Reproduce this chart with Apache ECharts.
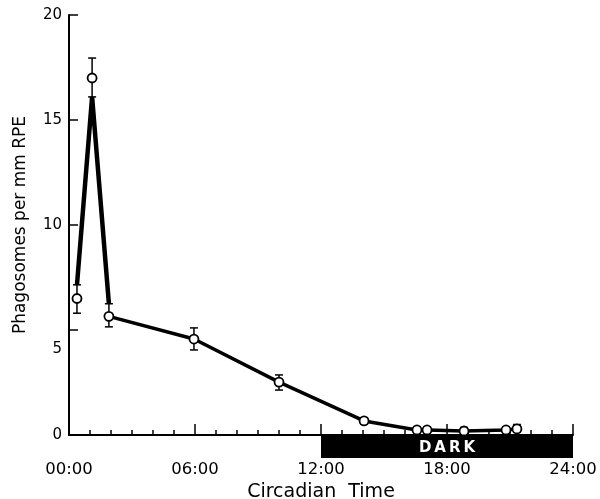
<!DOCTYPE html>
<html><head><meta charset="utf-8">
<script src="https://cdn.jsdelivr.net/npm/echarts@6/dist/echarts.min.js"></script>
<style>html,body{margin:0;padding:0;background:#fff}#c{width:600px;height:499px}</style>
</head><body><div id="c"></div>
<script>
// Circadian time (h) of each sample, mean and error bar ends
const hours  = [0.38, 1.10, 1.90, 5.95, 10.0, 14.05, 16.57, 17.05, 18.81, 20.81, 21.33];
const means  = [6.5, 17.0, 5.65, 4.57, 2.52, 0.67, 0.24, 0.24, 0.19, 0.24, 0.29];
const errLow = [5.8, 16.1, 5.15, 4.05, 2.14, 0.52, 0.12, 0.12, 0.1, 0.12, 0.15];
const errHigh= [7.15, 17.95, 6.25, 5.1, 2.86, 0.82, 0.36, 0.36, 0.36, 0.36, 0.5];
// drawn trace (the peak segment is joined at the error bar ends)
const peakTraceHours = [0.38, 1.10, 1.90];
const peakTraceVals  = [7.15, 16.1, 6.25];
const tailTraceHours = [1.90, 5.95, 10.0, 14.05, 16.57, 17.05, 18.81, 20.81, 21.33];
const tailTraceVals  = [5.65, 4.57, 2.52, 0.67, 0.24, 0.24, 0.19, 0.24, 0.29];
const xTicks = ['00:00','06:00','12:00','18:00','24:00'];
const darkPeriod = [12, 24];
const darkLabel = 'DARK';
const yTitle = 'Phagosomes per mm RPE';
const xTitle = 'Circadian  Time';

const font = '"DejaVu Sans", "Liberation Sans", Arial, sans-serif';
const chart = echarts.init(document.getElementById('c'));
chart.setOption({
  animation: false,
  grid: {left: 69, right: 27, top: 15, bottom: 64, containLabel: false, outerBoundsMode: 'none'},
  xAxis: {
    type: 'value', min: 0, max: 24, interval: 6,
    name: xTitle, nameLocation: 'middle', nameGap: 48,
    nameTextStyle: {color: '#000', fontSize: 19, fontFamily: font},
    axisLine: {lineStyle: {color: '#000', width: 2}},
    axisTick: {inside: true, length: 11, lineStyle: {color: '#000', width: 1.5}},
    minorTick: {show: true, splitNumber: 6, length: 5, lineStyle: {color: '#000', width: 1.5}},
    axisLabel: {color: '#000', fontSize: 16.5, fontFamily: font, margin: 26,
      formatter: v => xTicks[v / 6]},
    splitLine: {show: false}
  },
  yAxis: {
    type: 'value', min: 0, max: 20, interval: 5,
    name: yTitle, nameLocation: 'middle', nameGap: 40,
    nameTextStyle: {color: '#000', fontSize: 17, fontFamily: font},
    axisLine: {show: true, lineStyle: {color: '#000', width: 2}},
    axisTick: {show: true, inside: true, length: 9, lineStyle: {color: '#000', width: 1.5}},
    axisLabel: {color: '#000', fontSize: 15, fontFamily: font, margin: 7,
      formatter: v => v === 5 ? '{d|5}' : String(v),
      rich: {d: {padding: [38, 0, 0, 0], fontSize: 15, fontFamily: font, color: '#000'}}},
    splitLine: {show: false}
  },
  series: [
    {
      type: 'custom', clip: false, z: 1,
      data: [[darkPeriod[0], darkPeriod[1]]],
      renderItem: (params, api) => {
        const a = api.coord([api.value(0), 0]);
        const b = api.coord([api.value(1), 0]);
        return {type: 'group', children: [
          {type: 'rect', shape: {x: a[0], y: a[1], width: b[0] - a[0], height: 23}, style: {fill: '#000'}},
          {type: 'text', x: (a[0] + b[0]) / 2, y: a[1] + 13,
           style: {text: darkLabel.split('').join('\u2009'), fill: '#fff', font: 'bold 15px ' + font, align: 'center', verticalAlign: 'middle'}}
        ]};
      }
    },
    {type: 'line', data: peakTraceHours.map((h, i) => [h, peakTraceVals[i]]), symbol: 'none',
     lineStyle: {color: '#000', width: 4.5}, z: 2},
    {type: 'line', data: tailTraceHours.map((h, i) => [h, tailTraceVals[i]]), symbol: 'none',
     lineStyle: {color: '#000', width: 3.5}, z: 2},
    {
      type: 'custom', z: 3,
      data: hours.map((h, i) => [h, errLow[i], errHigh[i]]),
      renderItem: (params, api) => {
        const lo = api.coord([api.value(0), api.value(1)]);
        const hi = api.coord([api.value(0), api.value(2)]);
        const w = 4;
        const st = {stroke: '#000', lineWidth: 1.5};
        return {type: 'group', children: [
          {type: 'line', shape: {x1: lo[0], y1: lo[1], x2: hi[0], y2: hi[1]}, style: st},
          {type: 'line', shape: {x1: lo[0] - w, y1: lo[1], x2: lo[0] + w, y2: lo[1]}, style: st},
          {type: 'line', shape: {x1: hi[0] - w, y1: hi[1], x2: hi[0] + w, y2: hi[1]}, style: st}
        ]};
      }
    },
    {type: 'scatter', data: hours.map((h, i) => [h, means[i]]), symbol: 'circle', symbolSize: 9,
     itemStyle: {color: '#fff', borderColor: '#000', borderWidth: 1.8, opacity: 1}, z: 4}
  ]
});
</script></body></html>
